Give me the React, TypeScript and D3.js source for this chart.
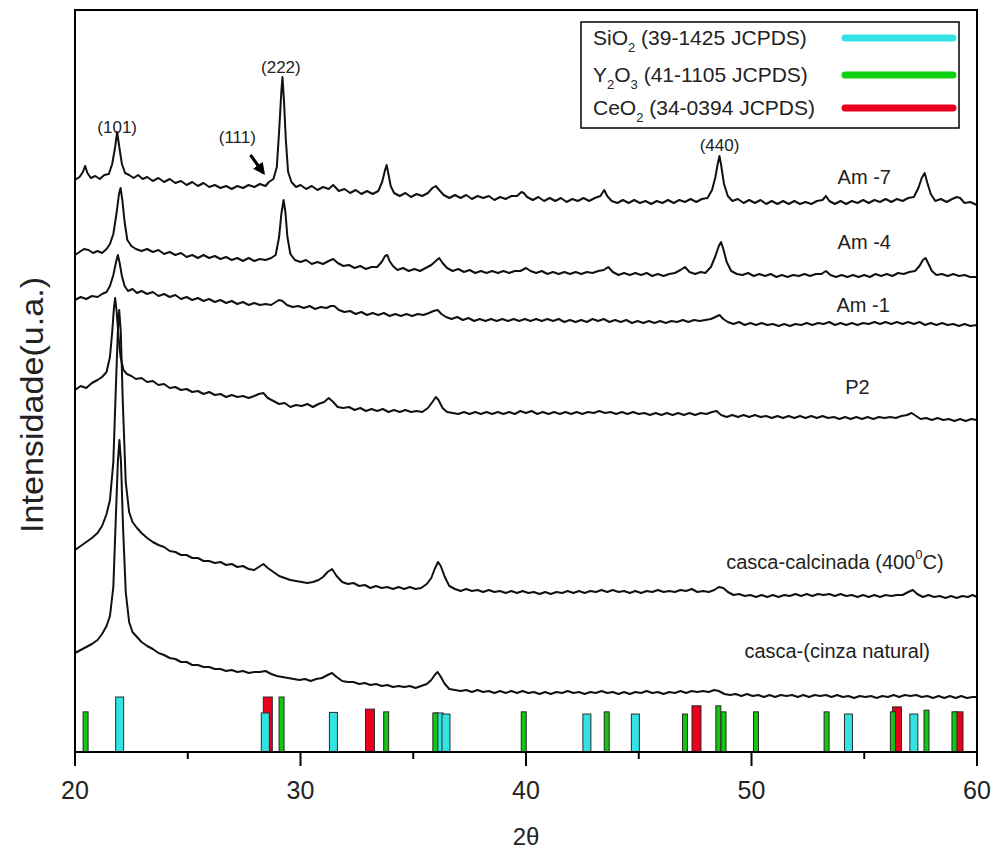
import React from "react";
import * as d3 from "d3";

// diffractograms, intensity in arbitrary units (u.a.), x = 2theta
const am7: [number, number][] = [[20.0,572],[20.2,575],[20.35,580],[20.45,586],[20.55,579],[20.7,574],[20.9,576],[21.1,573],[21.3,577],[21.5,578],[21.65,588],[21.78,605],[21.87,620],[21.97,604],[22.08,588],[22.22,579],[22.4,577],[22.6,574],[22.8,577],[23.0,573],[23.2,575],[23.45,571],[23.7,574],[23.95,570],[24.2,573],[24.45,569],[24.7,571],[24.95,567],[25.2,570],[25.45,566],[25.7,569],[25.95,565],[26.2,567],[26.45,564],[26.7,566],[26.95,563],[27.2,566],[27.45,564],[27.7,567],[27.95,565],[28.2,568],[28.45,566],[28.6,570],[28.8,573],[28.95,585],[29.05,620],[29.15,660],[29.2,675],[29.27,650],[29.35,612],[29.45,580],[29.6,570],[29.8,565],[30.0,567],[30.25,563],[30.5,566],[30.75,562],[31.0,565],[31.25,563],[31.45,567],[31.7,561],[31.95,563],[32.2,559],[32.45,562],[32.7,558],[32.95,561],[33.2,558],[33.45,561],[33.62,570],[33.75,582],[33.82,587],[33.9,578],[34.0,566],[34.15,559],[34.4,556],[34.65,559],[34.9,555],[35.15,558],[35.4,556],[35.65,559],[35.85,564],[36.0,566],[36.15,562],[36.35,557],[36.6,554],[36.85,557],[37.1,554],[37.35,557],[37.6,553],[37.85,556],[38.1,554],[38.35,556],[38.6,552],[38.85,555],[39.1,553],[39.35,556],[39.6,556],[39.8,560],[39.9,559],[40.05,555],[40.3,552],[40.55,555],[40.8,551],[41.05,554],[41.3,551],[41.55,554],[41.8,550],[42.05,553],[42.3,551],[42.55,554],[42.8,551],[43.05,554],[43.3,556],[43.47,562],[43.6,556],[43.8,551],[44.05,549],[44.3,552],[44.55,549],[44.8,552],[45.05,549],[45.3,551],[45.55,548],[45.8,551],[46.05,549],[46.3,552],[46.55,549],[46.8,552],[47.05,550],[47.3,553],[47.55,550],[47.8,553],[48.05,554],[48.25,562],[48.4,575],[48.5,588],[48.58,596],[48.66,586],[48.78,568],[48.95,556],[49.15,551],[49.4,553],[49.65,549],[49.9,552],[50.15,549],[50.4,552],[50.65,548],[50.9,551],[51.15,548],[51.4,551],[51.65,548],[51.9,551],[52.15,548],[52.4,550],[52.65,548],[52.9,551],[53.15,552],[53.3,556],[53.45,551],[53.7,548],[53.95,551],[54.2,548],[54.45,551],[54.7,549],[54.95,552],[55.2,549],[55.45,552],[55.7,550],[55.95,553],[56.2,550],[56.45,553],[56.7,551],[56.95,554],[57.2,555],[57.4,564],[57.55,574],[57.68,579],[57.8,569],[57.95,558],[58.15,551],[58.4,553],[58.65,550],[58.9,553],[59.1,555],[59.25,554],[59.45,549],[59.7,550],[60.0,547]];

const am4: [number, number][] = [[20.0,497],[20.2,500],[20.4,503],[20.6,502],[20.8,499],[21.0,501],[21.2,499],[21.4,503],[21.55,508],[21.7,518],[21.85,540],[21.95,558],[22.02,564],[22.1,552],[22.2,530],[22.32,512],[22.5,506],[22.7,503],[22.95,501],[23.2,503],[23.45,500],[23.7,502],[23.95,498],[24.2,500],[24.45,497],[24.7,499],[24.95,495],[25.2,497],[25.45,494],[25.7,497],[25.95,494],[26.2,496],[26.45,493],[26.7,495],[26.95,492],[27.2,494],[27.45,491],[27.7,494],[27.95,491],[28.2,493],[28.45,492],[28.7,494],[28.9,497],[29.05,515],[29.15,538],[29.25,552],[29.33,540],[29.42,515],[29.55,498],[29.75,492],[30.0,490],[30.25,492],[30.5,488],[30.75,490],[31.0,488],[31.25,491],[31.45,493],[31.65,489],[31.9,486],[32.15,487],[32.4,484],[32.65,486],[32.9,483],[33.15,485],[33.4,485],[33.6,490],[33.75,496],[33.85,497],[33.95,491],[34.1,486],[34.3,482],[34.55,484],[34.8,481],[35.05,483],[35.3,481],[35.55,484],[35.8,487],[36.0,491],[36.15,494],[36.3,489],[36.5,484],[36.75,481],[37.0,483],[37.25,480],[37.5,482],[37.75,479],[38.0,481],[38.25,479],[38.5,481],[38.75,479],[39.0,481],[39.25,479],[39.5,481],[39.75,481],[40.0,484],[40.2,481],[40.45,479],[40.7,481],[40.95,478],[41.2,480],[41.45,478],[41.7,480],[41.95,478],[42.2,480],[42.45,478],[42.7,480],[42.95,479],[43.2,481],[43.45,482],[43.65,485],[43.85,480],[44.1,477],[44.35,479],[44.6,477],[44.85,479],[45.1,477],[45.35,479],[45.6,476],[45.85,478],[46.1,476],[46.35,478],[46.6,479],[46.85,482],[47.05,485],[47.25,480],[47.5,478],[47.75,480],[47.95,479],[48.2,485],[48.4,496],[48.55,506],[48.65,510],[48.75,503],[48.9,490],[49.1,481],[49.35,478],[49.6,477],[49.85,479],[50.1,476],[50.35,478],[50.6,476],[50.85,478],[51.1,475],[51.35,477],[51.6,475],[51.85,477],[52.1,476],[52.35,478],[52.6,476],[52.85,478],[53.1,478],[53.3,481],[53.5,477],[53.75,475],[54.0,477],[54.25,475],[54.5,477],[54.75,475],[55.0,477],[55.25,475],[55.5,478],[55.75,476],[56.0,478],[56.25,476],[56.5,479],[56.75,478],[57.0,480],[57.25,481],[57.45,486],[57.6,492],[57.72,494],[57.85,488],[58.0,481],[58.2,477],[58.45,478],[58.7,476],[58.95,478],[59.2,476],[59.45,477],[59.7,475],[60.0,475]];

const am1: [number, number][] = [[20.0,452],[20.25,455],[20.5,453],[20.75,456],[21.0,455],[21.2,458],[21.4,460],[21.55,466],[21.7,477],[21.82,490],[21.9,497],[21.98,489],[22.08,476],[22.2,466],[22.35,461],[22.55,463],[22.75,459],[22.95,461],[23.2,458],[23.45,460],[23.7,456],[23.95,458],[24.2,455],[24.45,457],[24.7,453],[24.95,455],[25.2,452],[25.45,454],[25.7,451],[25.95,453],[26.2,450],[26.45,452],[26.7,449],[26.95,451],[27.2,448],[27.45,450],[27.7,447],[27.95,449],[28.2,447],[28.45,448],[28.7,447],[28.9,450],[29.05,452],[29.2,451],[29.4,447],[29.65,445],[29.9,446],[30.15,444],[30.4,446],[30.65,443],[30.9,445],[31.15,444],[31.35,446],[31.5,446],[31.7,442],[31.95,440],[32.2,441],[32.45,438],[32.7,440],[32.95,437],[33.2,439],[33.45,437],[33.7,439],[33.95,436],[34.2,438],[34.45,436],[34.7,438],[34.95,436],[35.2,438],[35.45,437],[35.7,439],[35.9,441],[36.08,442],[36.25,438],[36.45,435],[36.7,433],[36.95,435],[37.2,432],[37.45,434],[37.7,431],[37.95,433],[38.2,431],[38.45,433],[38.7,431],[38.95,433],[39.2,431],[39.45,433],[39.7,431],[39.95,433],[40.2,431],[40.45,433],[40.7,431],[40.95,433],[41.2,431],[41.45,433],[41.7,430],[41.95,432],[42.2,430],[42.45,432],[42.7,430],[42.95,433],[43.2,431],[43.45,433],[43.7,430],[43.95,432],[44.2,430],[44.45,432],[44.7,429],[44.95,431],[45.2,429],[45.45,431],[45.7,429],[45.95,431],[46.2,429],[46.45,431],[46.7,430],[46.95,432],[47.2,430],[47.45,432],[47.7,431],[47.95,432],[48.2,433],[48.4,435],[48.58,437],[48.75,433],[48.95,430],[49.2,428],[49.45,430],[49.7,427],[49.95,429],[50.2,427],[50.45,429],[50.7,427],[50.95,428],[51.2,426],[51.45,428],[51.7,426],[51.95,428],[52.2,427],[52.45,429],[52.7,427],[52.95,429],[53.2,428],[53.45,430],[53.7,427],[53.95,429],[54.2,427],[54.45,429],[54.7,427],[54.95,429],[55.2,428],[55.45,430],[55.7,428],[55.95,430],[56.2,428],[56.45,430],[56.7,428],[56.95,430],[57.2,428],[57.45,430],[57.7,427],[57.95,429],[58.2,427],[58.45,429],[58.7,427],[58.95,428],[59.2,426],[59.45,428],[59.7,426],[60.0,427]];

const p2: [number, number][] = [[20.0,362],[20.25,366],[20.5,364],[20.75,369],[21.0,372],[21.2,375],[21.4,380],[21.55,395],[21.65,420],[21.73,445],[21.78,454],[21.85,440],[21.93,415],[22.02,395],[22.15,382],[22.3,378],[22.5,376],[22.7,373],[22.95,374],[23.2,370],[23.45,371],[23.7,367],[23.95,368],[24.2,364],[24.45,365],[24.7,362],[24.95,363],[25.2,360],[25.45,361],[25.7,358],[25.95,360],[26.2,357],[26.45,358],[26.7,355],[26.95,357],[27.2,355],[27.45,356],[27.7,354],[27.95,356],[28.15,358],[28.35,359],[28.55,354],[28.8,351],[29.05,348],[29.3,349],[29.55,345],[29.8,347],[30.05,346],[30.3,348],[30.55,345],[30.8,348],[31.05,350],[31.25,354],[31.45,350],[31.65,345],[31.9,344],[32.15,345],[32.4,342],[32.65,344],[32.9,341],[33.15,343],[33.4,341],[33.65,343],[33.9,340],[34.15,342],[34.4,340],[34.65,342],[34.9,340],[35.15,341],[35.4,340],[35.65,344],[35.85,350],[36.0,355],[36.12,352],[36.3,344],[36.5,340],[36.75,339],[37.0,338],[37.25,340],[37.5,338],[37.75,340],[38.0,338],[38.25,340],[38.5,338],[38.75,340],[39.0,338],[39.25,340],[39.5,338],[39.75,341],[40.0,339],[40.25,341],[40.5,338],[40.75,340],[41.0,338],[41.25,340],[41.5,338],[41.75,340],[42.0,338],[42.25,340],[42.5,338],[42.75,340],[43.0,339],[43.25,341],[43.5,339],[43.75,340],[44.0,338],[44.25,340],[44.5,338],[44.75,340],[45.0,338],[45.25,339],[45.5,337],[45.75,339],[46.0,337],[46.25,339],[46.5,337],[46.75,339],[47.0,337],[47.25,339],[47.5,337],[47.75,339],[48.0,338],[48.25,340],[48.45,341],[48.65,337],[48.9,335],[49.15,337],[49.4,335],[49.65,337],[49.9,335],[50.15,337],[50.4,335],[50.65,336],[50.9,334],[51.15,336],[51.4,334],[51.65,336],[51.9,334],[52.15,336],[52.4,334],[52.65,336],[52.9,334],[53.15,336],[53.4,334],[53.65,335],[53.9,333],[54.15,335],[54.4,333],[54.65,335],[54.9,333],[55.15,335],[55.4,333],[55.65,335],[55.9,334],[56.15,335],[56.4,334],[56.65,336],[56.9,337],[57.1,339],[57.3,336],[57.5,333],[57.75,334],[58.0,332],[58.25,334],[58.5,332],[58.75,333],[59.0,331],[59.25,333],[59.5,331],[59.75,333],[60.0,332]];

const cascaCalcinada: [number, number][] = [[20.0,202],[20.25,206],[20.5,210],[20.75,214],[21.0,219],[21.2,226],[21.4,238],[21.55,252],[21.7,290],[21.82,370],[21.9,420],[21.96,442],[22.03,420],[22.12,350],[22.25,270],[22.4,240],[22.55,230],[22.75,224],[22.95,219],[23.2,214],[23.45,210],[23.7,207],[23.95,205],[24.2,201],[24.45,200],[24.7,197],[24.95,197],[25.2,194],[25.45,194],[25.7,191],[25.95,191],[26.2,189],[26.45,190],[26.7,187],[26.95,188],[27.2,185],[27.45,186],[27.7,183],[27.95,182],[28.15,185],[28.35,188],[28.55,184],[28.8,180],[29.05,176],[29.3,174],[29.55,172],[29.8,171],[30.05,170],[30.3,169],[30.55,170],[30.8,172],[31.0,175],[31.2,180],[31.4,183],[31.6,176],[31.85,170],[32.1,168],[32.35,169],[32.6,166],[32.85,167],[33.1,164],[33.35,166],[33.6,164],[33.85,165],[34.1,163],[34.35,165],[34.6,163],[34.85,165],[35.1,163],[35.35,164],[35.6,168],[35.8,174],[35.95,183],[36.1,190],[36.22,186],[36.4,175],[36.6,166],[36.85,163],[37.1,161],[37.35,163],[37.6,161],[37.85,162],[38.1,160],[38.35,162],[38.6,160],[38.85,161],[39.1,159],[39.35,161],[39.6,159],[39.85,161],[40.1,159],[40.35,160],[40.6,158],[40.85,160],[41.1,158],[41.35,160],[41.6,159],[41.85,161],[42.1,159],[42.35,161],[42.6,159],[42.85,161],[43.1,160],[43.35,162],[43.6,160],[43.85,162],[44.1,160],[44.35,161],[44.6,159],[44.85,161],[45.1,159],[45.35,161],[45.6,160],[45.85,162],[46.1,160],[46.35,161],[46.6,160],[46.85,162],[47.1,161],[47.35,163],[47.6,160],[47.85,161],[48.1,160],[48.35,162],[48.55,165],[48.75,164],[48.95,160],[49.2,157],[49.45,158],[49.7,156],[49.95,157],[50.2,155],[50.45,157],[50.7,155],[50.95,157],[51.2,155],[51.45,157],[51.7,156],[51.95,158],[52.2,156],[52.45,158],[52.7,156],[52.95,158],[53.2,157],[53.45,158],[53.7,156],[53.95,158],[54.2,156],[54.45,157],[54.7,155],[54.95,157],[55.2,155],[55.45,157],[55.7,155],[55.95,157],[56.2,156],[56.45,157],[56.7,157],[56.95,160],[57.15,162],[57.35,158],[57.6,155],[57.85,157],[58.1,155],[58.35,156],[58.6,154],[58.85,156],[59.1,154],[59.35,156],[59.6,155],[59.8,157],[60.0,155]];

const cascaNatural: [number, number][] = [[20.0,99],[20.25,102],[20.5,105],[20.75,108],[21.0,112],[21.2,118],[21.4,126],[21.55,136],[21.7,165],[21.82,240],[21.9,290],[21.97,312],[22.04,290],[22.13,225],[22.25,160],[22.4,130],[22.55,120],[22.75,115],[22.95,110],[23.2,106],[23.45,103],[23.7,99],[23.95,97],[24.2,94],[24.45,93],[24.7,90],[24.95,90],[25.2,87],[25.45,87],[25.7,85],[25.95,85],[26.2,83],[26.45,83],[26.7,81],[26.95,82],[27.2,80],[27.45,81],[27.7,79],[27.95,80],[28.2,80],[28.45,81],[28.7,78],[28.95,76],[29.2,75],[29.45,74],[29.7,73],[29.95,72],[30.2,73],[30.45,71],[30.7,73],[30.95,74],[31.2,77],[31.4,79],[31.6,75],[31.85,71],[32.1,70],[32.35,70],[32.6,68],[32.85,69],[33.1,67],[33.35,68],[33.6,66],[33.85,67],[34.1,65],[34.35,66],[34.6,65],[34.85,66],[35.1,64],[35.35,66],[35.6,68],[35.8,72],[35.95,77],[36.08,80],[36.2,76],[36.4,68],[36.6,63],[36.85,62],[37.1,61],[37.35,62],[37.6,60],[37.85,62],[38.1,60],[38.35,61],[38.6,59],[38.85,61],[39.1,59],[39.35,61],[39.6,59],[39.85,61],[40.1,59],[40.35,60],[40.6,58],[40.85,60],[41.1,58],[41.35,60],[41.6,59],[41.85,61],[42.1,59],[42.35,60],[42.6,58],[42.85,60],[43.1,59],[43.35,61],[43.6,59],[43.85,60],[44.1,58],[44.35,60],[44.6,58],[44.85,60],[45.1,59],[45.35,61],[45.6,59],[45.85,60],[46.1,58],[46.35,60],[46.6,59],[46.85,61],[47.1,59],[47.35,61],[47.6,60],[47.85,61],[48.1,60],[48.35,62],[48.55,61],[48.8,58],[49.05,57],[49.3,58],[49.55,56],[49.8,58],[50.05,56],[50.3,57],[50.55,55],[50.8,57],[51.05,55],[51.3,57],[51.55,56],[51.8,57],[52.05,55],[52.3,57],[52.55,55],[52.8,57],[53.05,56],[53.3,57],[53.55,55],[53.8,57],[54.05,55],[54.3,56],[54.55,54],[54.8,56],[55.05,55],[55.3,56],[55.55,54],[55.8,56],[56.05,55],[56.3,57],[56.55,55],[56.8,57],[57.05,56],[57.3,57],[57.55,55],[57.8,56],[58.05,54],[58.3,56],[58.55,54],[58.8,56],[59.05,54],[59.3,56],[59.55,54],[59.8,55],[60.0,55]];

// JCPDS reference lines: [2theta, relative intensity]
const sio2Lines: [number, number][] = [[21.98,100],[28.44,71],[31.46,72],[36.15,71],[36.45,69],[42.7,69],[44.85,69],[54.3,69],[57.2,69]];
const y2o3Lines: [number, number][] = [[20.47,73],[29.16,100],[33.8,73],[35.98,71],[39.9,73],[43.58,73],[47.05,69],[48.53,84],[48.76,73],[50.2,73],[53.33,73],[56.27,73],[57.76,76],[59.0,73]];
const ceo2Lines: [number, number][] = [[28.55,100],[33.08,78],[47.56,84],[56.45,82],[59.18,73]];

const xTicks = [20, 30, 40, 50, 60];
const xMinorTicks = [25, 35, 45, 55];

const traces = [am7, am4, am1, p2, cascaCalcinada, cascaNatural];

// sample labels [text, 2theta, intensity]
const sampleLabels: [string, number, number][] = [
  ["Am -7", 55.0, 575],
  ["Am -4", 55.0, 510],
  ["Am -1", 54.95, 447],
  ["P2", 54.7, 365],
];
const peakLabels: [string, number, number][] = [
  ["(101)", 21.87, 625],
  ["(222)", 29.13, 685],
  ["(111)", 27.2, 615],
  ["(440)", 48.58, 607],
];

const FONT = "'Liberation Sans', Arial, Helvetica, sans-serif";

export default function App() {
  const left = 75, right = 977, top = 10, bottom = 752;
  const x = d3.scaleLinear().domain([20, 60]).range([left, right]);
  const y = d3.scaleLinear().domain([0, 742]).range([bottom, top]);
  const yBar = d3.scaleLinear().domain([0, 100]).range([bottom, 697]);
  const line = d3.line<[number, number]>().x((d) => x(d[0])).y((d) => y(d[1]));

  const bars = (data: [number, number][], w: number, fill: string, key: string) =>
    data.map((d, i) => (
      <rect key={key + i} x={x(d[0]) - w / 2} y={yBar(d[1])} width={w}
        height={bottom - yBar(d[1])} fill={fill} stroke="#2a2a2a" strokeWidth={1} />
    ));

  return (
    <svg width={995} height={853} style={{ position: "absolute", left: 0, top: 0, background: "#fff" }}
      fontFamily={FONT}>
      <defs>
        <marker id="arr" viewBox="0 0 10 10" refX="8" refY="5" markerWidth="4" markerHeight="4" orient="auto">
          <path d="M0,0 L10,5 L0,10 z" fill="#000" />
        </marker>
      </defs>

      {/* reference lines */}
      {bars(ceo2Lines, 9, "#e8001c", "ce")}
      {bars(sio2Lines, 8, "#33e3e3", "si")}
      {bars(y2o3Lines, 5, "#10c810", "y")}

      {/* diffractograms */}
      {traces.map((t, i) => (
        <path key={i} d={line(t) || ""} fill="none" stroke="#111" strokeWidth={2} strokeLinejoin="round" />
      ))}

      {/* frame */}
      <rect x={left} y={top} width={right - left} height={bottom - top} fill="none" stroke="#000" strokeWidth={2} />

      {/* x ticks */}
      {xTicks.map((t) => (
        <g key={t}>
          <line x1={x(t)} x2={x(t)} y1={bottom} y2={bottom + 14} stroke="#000" strokeWidth={2} />
          <text x={x(t)} y={799} fontSize={25} textAnchor="middle" fill="#222">{t}</text>
        </g>
      ))}
      {xMinorTicks.map((t) => (
        <line key={t} x1={x(t)} x2={x(t)} y1={bottom} y2={bottom + 7} stroke="#000" strokeWidth={2} />
      ))}

      <text x={(left + right) / 2} y={845} fontSize={24} textAnchor="middle" fill="#222">2θ</text>
      <text transform="translate(43,405) rotate(-90)" fontSize={31} textAnchor="middle" fill="#222"
        textLength={256} lengthAdjust="spacingAndGlyphs">Intensidade(u.a.)</text>

      {/* sample labels */}
      {sampleLabels.map(([s, tt, v]) => (
        <text key={s} x={x(tt)} y={y(v)} fontSize={20} textAnchor="middle" dominantBaseline="central" fill="#222">{s}</text>
      ))}
      <text x={x(53.7)} y={y(190)} fontSize={20} textAnchor="middle" dominantBaseline="central" fill="#222">
        casca-calcinada (400<tspan dy={-8} fontSize={13}>0</tspan><tspan dy={8}>C)</tspan>
      </text>
      <text x={x(53.8)} y={y(101)} fontSize={20} textAnchor="middle" dominantBaseline="central" fill="#222">
        casca-(cinza natural)
      </text>

      {/* peak labels */}
      {peakLabels.map(([s, tt, v]) => (
        <text key={s} x={x(tt)} y={y(v)} fontSize={17} textAnchor="middle" dominantBaseline="central" fill="#222">{s}</text>
      ))}
      <line x1={x(27.78)} y1={y(597)} x2={x(28.36)} y2={y(579)} stroke="#000" strokeWidth={3} markerEnd="url(#arr)" />

      {/* legend */}
      <g>
        <rect x={581} y={22} width={378} height={106} fill="#fff" stroke="#000" strokeWidth={1.5} />
        <text x={593} y={45} fontSize={21} fill="#222">
          SiO<tspan dy={7} fontSize={13}>2</tspan><tspan dy={-7}> (39-1425 JCPDS)</tspan>
        </text>
        <text x={593} y={82} fontSize={21} fill="#222">
          Y<tspan dy={7} fontSize={13}>2</tspan><tspan dy={-7}>O</tspan><tspan dy={7} fontSize={13}>3</tspan><tspan dy={-7}> (41-1105 JCPDS)</tspan>
        </text>
        <text x={593} y={115} fontSize={21} fill="#222">
          CeO<tspan dy={7} fontSize={13}>2</tspan><tspan dy={-7}> (34-0394 JCPDS)</tspan>
        </text>
        <line x1={845} x2={953} y1={38} y2={38} stroke="#33e3e3" strokeWidth={7} strokeLinecap="round" />
        <line x1={845} x2={953} y1={75} y2={75} stroke="#10d010" strokeWidth={7} strokeLinecap="round" />
        <line x1={845} x2={953} y1={108} y2={108} stroke="#e8001c" strokeWidth={7} strokeLinecap="round" />
      </g>
    </svg>
  );
}
